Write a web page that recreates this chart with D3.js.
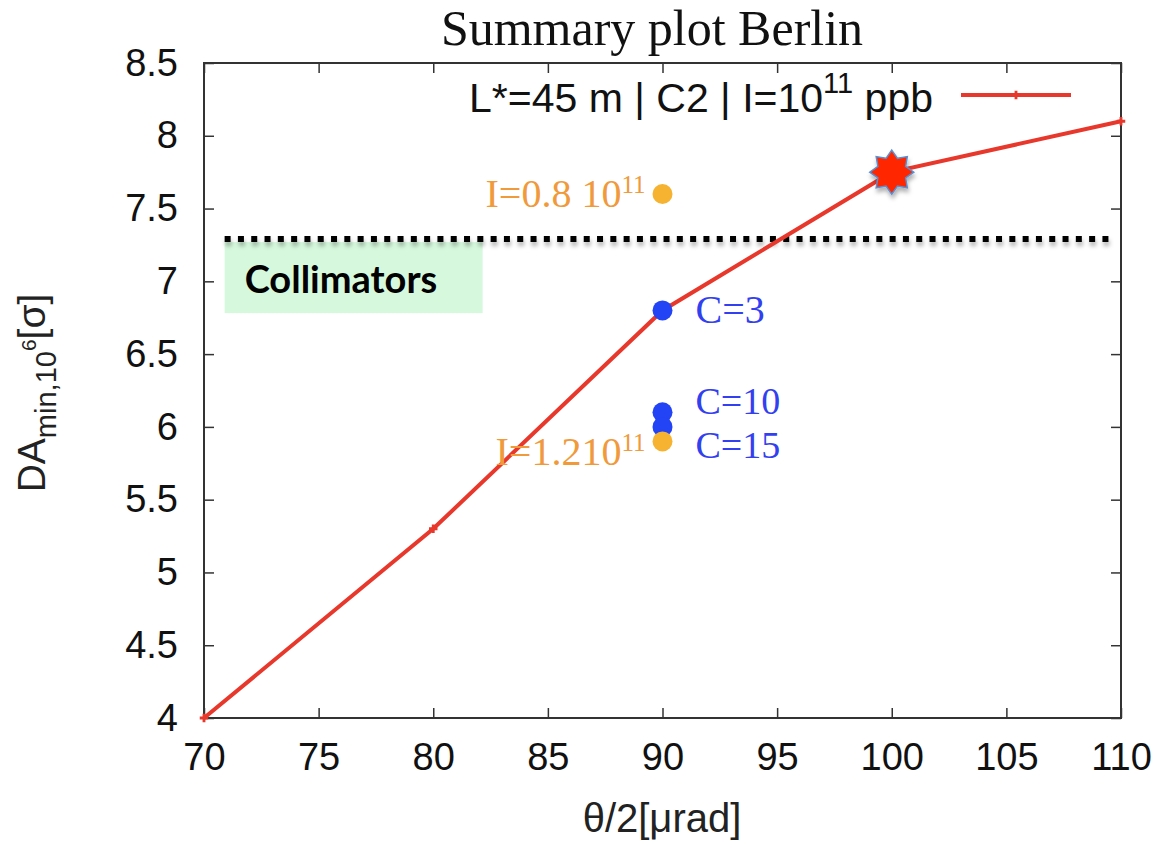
<!DOCTYPE html>
<html>
<head>
<meta charset="utf-8">
<script src="https://d3js.org/d3.v7.min.js"></script>
<style>
body { margin: 0; background: #fff; }
.axis text { font: 38px "Liberation Sans", Arial, sans-serif; fill: #111; }
.axis path { stroke: none; }
.axis line { stroke: #333; stroke-width: 1.5; }
.serif { font-family: "Liberation Serif", "DejaVu Serif", serif; }
</style>
</head>
<body>
<svg width="1163" height="844"></svg>
<script>

// main series
var theta = [70, 80, 90, 100, 110];
var da = [4, 5.3, 6.8, 7.75, 8.1];

// extra points at 90 urad
var extraX = [90, 90, 90, 90, 90];
var extraY = [7.6, 6.8, 6.1, 6.0, 5.9];
var extraKind = ["I", "C", "C", "C", "I"];

var labels = [
  {x: 90, y: 7.6, main: "I=0.8 10", sup: "11", side: "left", kind: "I", size: 40},
  {x: 90, y: 6.8, main: "C=3", sup: "", side: "right", kind: "C", size: 40},
  {x: 90, y: 6.18, main: "C=10", sup: "", side: "right", kind: "C", size: 38},
  {x: 90, y: 5.875, main: "C=15", sup: "", side: "right", kind: "C", size: 38},
  {x: 90, y: 5.83, main: "I=1.210", sup: "11", side: "left", kind: "I", size: 40}
];

var starPoint = [100, 7.75];
var collimator = {y: 7.29, x0: 70.9, x1: 109.7};

var xTicks = [70, 75, 80, 85, 90, 95, 100, 105, 110];
var yTicks = [4, 4.5, 5, 5.5, 6, 6.5, 7, 7.5, 8, 8.5];

var svg = d3.select("svg"),
    margin = {top: 63, right: 42, bottom: 126, left: 204},
    width = +svg.attr("width"),
    height = +svg.attr("height");

var x = d3.scaleLinear().domain([70, 110]).range([margin.left, width - margin.right]);
var y = d3.scaleLinear().domain([4, 8.5]).range([height - margin.bottom, margin.top]);

var defs = svg.append("defs");
var f = defs.append("filter").attr("id", "shadow")
  .attr("filterUnits", "userSpaceOnUse")
  .attr("x", 0).attr("y", 0).attr("width", width).attr("height", height);
f.append("feDropShadow").attr("dx", 1).attr("dy", 4).attr("stdDeviation", 2)
  .attr("flood-color", "#000").attr("flood-opacity", 0.3);

// title
svg.append("text").attr("class", "serif")
  .attr("x", 652).attr("y", 45)
  .attr("text-anchor", "middle")
  .style("font-size", "50px").style("fill", "#111")
  .text("Summary plot Berlin");

// collimator box
svg.append("rect")
  .attr("x", x(collimator.x0)).attr("y", y(collimator.y) + 3)
  .attr("width", 258).attr("height", 71)
  .attr("fill", "#d6f9dd");
svg.append("text")
  .attr("x", x(collimator.x0) + 20).attr("y", y(collimator.y) + 54)
  .style("font", "bold 38px Lato, 'Open Sans', sans-serif")
  .style("fill", "#000")
  .text("Collimators");

svg.append("line")
  .attr("x1", x(collimator.x0)).attr("x2", x(collimator.x1))
  .attr("y1", y(collimator.y)).attr("y2", y(collimator.y))
  .attr("stroke", "#000").attr("stroke-width", 6)
  .attr("stroke-dasharray", "6,7.3")
  .attr("filter", "url(#shadow)");

// axes
svg.append("g").attr("class", "axis")
  .attr("transform", "translate(0," + y(4) + ")")
  .call(d3.axisBottom(x).tickValues(xTicks).tickSizeInner(-10).tickSizeOuter(0).tickPadding(25));
svg.append("g").attr("class", "axis")
  .attr("transform", "translate(0," + y(8.5) + ")")
  .call(d3.axisTop(x).tickValues(xTicks).tickSizeInner(-10).tickSizeOuter(0).tickFormat(""));
svg.append("g").attr("class", "axis")
  .attr("transform", "translate(" + x(70) + ",0)")
  .call(d3.axisLeft(y).tickValues(yTicks).tickSizeInner(-10).tickSizeOuter(0).tickPadding(26).tickFormat(d3.format("")));
svg.append("g").attr("class", "axis")
  .attr("transform", "translate(" + x(110) + ",0)")
  .call(d3.axisRight(y).tickValues(yTicks).tickSizeInner(-10).tickSizeOuter(0).tickFormat(""));

svg.append("rect")
  .attr("x", x(70)).attr("y", y(8.5))
  .attr("width", x(110) - x(70)).attr("height", y(4) - y(8.5))
  .attr("fill", "none").attr("stroke", "#333").attr("stroke-width", 2);

// axis titles
svg.append("text")
  .attr("x", 662).attr("y", 832)
  .attr("text-anchor", "middle")
  .style("font", "40px 'Liberation Sans', Arial, sans-serif").style("fill", "#222")
  .text("θ/2[μrad]");

var yl = svg.append("text")
  .attr("transform", "translate(45,393) rotate(-90)")
  .attr("text-anchor", "middle")
  .style("font", "39px 'Liberation Sans', Arial, sans-serif").style("fill", "#222");
yl.append("tspan").text("DA");
yl.append("tspan").attr("dy", 11).style("font-size", "29px").text("min,10");
yl.append("tspan").attr("dy", -20).style("font-size", "21px").text("6");
yl.append("tspan").attr("dy", 9).text("[σ]");

// main line
var red = "#e8372b";
svg.append("path")
  .datum(d3.zip(theta, da))
  .attr("fill", "none").attr("stroke", red).attr("stroke-width", 4)
  .attr("d", d3.line().x(function(d) { return x(d[0]); }).y(function(d) { return y(d[1]); }));

svg.selectAll(".pt").data(d3.zip(theta, da)).enter().append("path")
  .attr("class", "pt")
  .attr("transform", function(d) { return "translate(" + x(d[0]) + "," + y(d[1]) + ")"; })
  .attr("d", d3.symbol(d3.symbolCross, 40))
  .attr("fill", red);

// legend
var lg = svg.append("text")
  .attr("x", 933).attr("y", 112).attr("text-anchor", "end")
  .style("font", "41px 'Liberation Sans', Arial, sans-serif").style("fill", "#111");
lg.append("tspan").text("L*=45 m | C2 | I=10");
lg.append("tspan").attr("dy", -19).style("font-size", "29px").text("11");
lg.append("tspan").attr("dy", 19).text(" ppb");
svg.append("line").attr("x1", 961).attr("x2", 1071).attr("y1", 95).attr("y2", 95)
  .attr("stroke", red).attr("stroke-width", 4);
svg.append("path").attr("transform", "translate(1016,95)")
  .attr("d", d3.symbol(d3.symbolCross, 40)).attr("fill", red);

// extra points
var orange = "#f6b332", blue = "#2344f5";
svg.selectAll(".ex").data(d3.zip(extraX, extraY, extraKind)).enter().append("circle")
  .attr("class", "ex")
  .attr("cx", function(d) { return x(d[0]); })
  .attr("cy", function(d) { return y(d[1]); })
  .attr("r", 10)
  .attr("fill", function(d) { return d[2] === "I" ? orange : blue; });

// annotations
svg.selectAll(".lab").data(labels).enter().append("text")
  .attr("class", "lab serif")
  .attr("x", function(d) { return d.side === "left" ? x(d.x) - 17 : x(d.x) + 33; })
  .attr("y", function(d) { return y(d.y) + 13; })
  .attr("text-anchor", function(d) { return d.side === "left" ? "end" : "start"; })
  .style("font-size", function(d) { return d.size + "px"; })
  .style("fill", function(d) { return d.kind === "I" ? "#f09a3c" : "#3240f0"; })
  .each(function(d) {
    var t = d3.select(this);
    t.append("tspan").text(d.main);
    if (d.sup) t.append("tspan").attr("dy", -14).style("font-size", "25px").text(d.sup);
  });

// star marker
var cx = x(starPoint[0]), cy = y(starPoint[1]);
var starPts = d3.range(16).map(function(i) {
  var r = i % 2 === 0 ? 22 : 15;
  var a = i * Math.PI / 8 - Math.PI / 2;
  return [cx + r * Math.cos(a), cy + r * Math.sin(a)];
});
svg.append("polygon")
  .attr("points", starPts.map(function(p) { return p.join(","); }).join(" "))
  .attr("fill", "#ff2500").attr("stroke", "#5b8fd0").attr("stroke-width", 1.5)
  .attr("filter", "url(#shadow)");

</script>
</body>
</html>
